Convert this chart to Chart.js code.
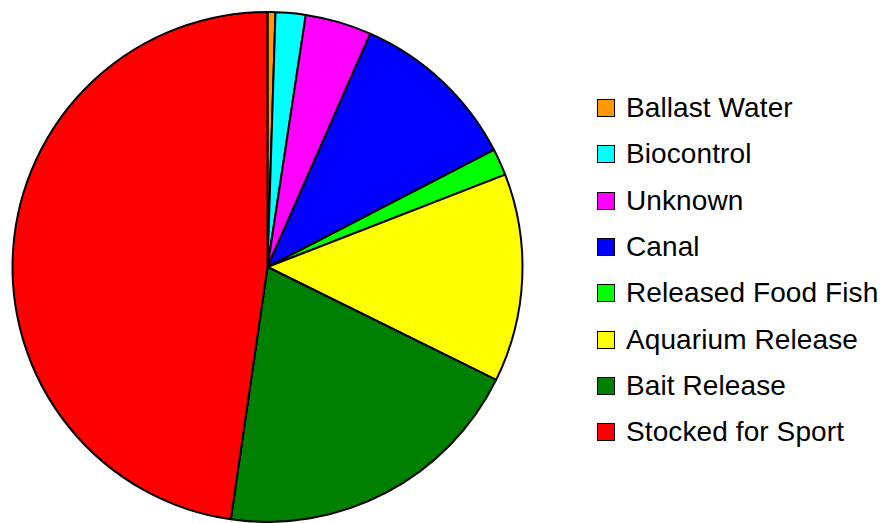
<!DOCTYPE html>
<html>
<head>
<meta charset="utf-8">
<script src="https://cdn.jsdelivr.net/npm/chart.js@4/dist/chart.umd.min.js"></script>
<style>
  html, body { margin: 0; padding: 0; background: #fff; }
  #wrap { position: relative; width: 894px; height: 523px; }
  #pieBox { position: absolute; left: 0; top: 0; width: 535px; height: 523px; }
  #legend { position: absolute; left: 597px; top: 0; margin: 0; padding: 0; list-style: none;
            font-family: "Liberation Sans", Arial, sans-serif; font-size: 28px; color: #000; }
  #legend li { position: absolute; left: 0; white-space: nowrap; height: 19px; }
  #legend .box { position: absolute; left: 0; top: 0; width: 16px; height: 16px; border: 1.5px solid #000; }
  #legend .txt { position: absolute; left: 29px; top: -6px; line-height: 30px; letter-spacing: 0.1px; }
</style>
</head>
<body>
<div id="wrap">
  <div id="pieBox"><canvas id="myChart"></canvas></div>
  <ul id="legend"></ul>
</div>
<script>
const categorias = ['Ballast Water', 'Biocontrol', 'Unknown', 'Canal', 'Released Food Fish', 'Aquarium Release', 'Bait Release', 'Stocked for Sport'];
const valores = [0.5, 1.9, 4.2, 10.8, 1.7, 13.2, 20.0, 47.7];
const cores = ['#FF9900', '#00FFFF', '#FF00FF', '#0000FF', '#00FF00', '#FFFF00', '#008000', '#FF0000'];

const grafico = document.getElementById('myChart')

const data = {
    labels: categorias,
    datasets: [{
        data: valores,
        backgroundColor: cores,
        borderColor: '#000000',
        borderWidth: 2
    }]
};

const config = {
    type: 'pie',
    data: data,
    options: {
        responsive: true,
        maintainAspectRatio: false,
        animation: false,
        layout: {
            padding: { top: 11, bottom: 0, left: 0, right: 0 }
        },
        plugins: {
            legend: { display: false },
            tooltip: { enabled: false }
        }
    },
};

const graficoPizza = new Chart(grafico, config);

// legenda ao lado
const legenda = document.getElementById('legend')
categorias.forEach((nome, i) => {
    const li = document.createElement('li')
    li.style.top = (99 + i * 46.3) + 'px'
    li.innerHTML = '<span class="box" style="background:' + cores[i] + '"></span><span class="txt">' + nome + '</span>'
    legenda.appendChild(li)
})
</script>
</body>
</html>
